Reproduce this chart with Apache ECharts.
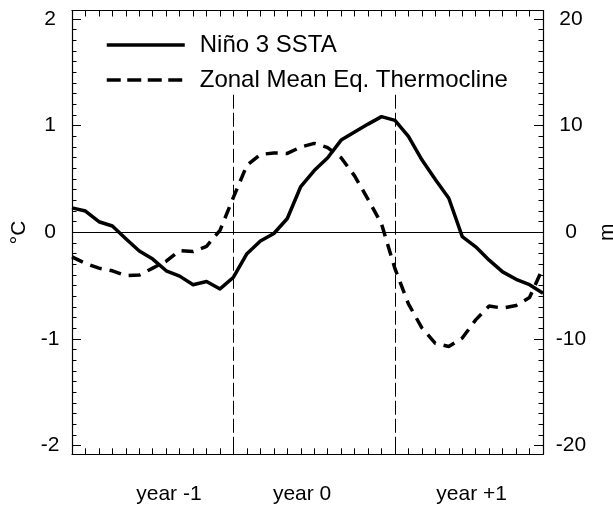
<!DOCTYPE html>
<html><head><meta charset="utf-8">
<script src="https://cdn.jsdelivr.net/npm/echarts@6/dist/echarts.min.js"></script>
<style>html,body{margin:0;padding:0;background:#fff}#c{width:613px;height:505px}</style>
</head><body><div id="c"></div>
<script>
// months since start of "year -1"
const months = [0,1,2,3,4,5,6,7,8,9,10,11,12,13,14,15,16,17,18,19,20,21,22,23,24,25,26,27,28,29,30,31,32,33,34,35];
// Niño 3 SSTA (°C)
const ninoSSTA = [0.23,0.20,0.10,0.06,-0.06,-0.175,-0.25,-0.36,-0.41,-0.49,-0.46,-0.53,-0.42,-0.20,-0.08,-0.01,0.13,0.43,0.58,0.70,0.865,0.94,1.015,1.085,1.05,0.90,0.68,0.495,0.32,-0.04,-0.135,-0.26,-0.37,-0.44,-0.49,-0.57];
// Zonal mean equatorial thermocline (m)
const thermocline = [-2.3,-2.9,-3.35,-3.6,-4.05,-4.0,-3.35,-2.7,-1.7,-1.8,-1.3,0.2,3.3,6.3,7.3,7.45,7.4,8.0,8.35,7.95,7.0,5.3,3.1,0.8,-3.4,-6.7,-8.95,-10.4,-10.7,-9.9,-8.2,-6.9,-7.1,-6.85,-6.1,-3.3];
const yearLabels = ['year -1','year 0','year +1'];
const yearLabelMonths = [7.2, 17.1, 29.7];
const yearBoundaries = [12, 24];
const boundaryTop = 1.29;
const tempRange = [-2.08, 2.08];
const depthRange = [-20.8, 20.8];
const tempTicks = {min:-2, max:2, interval:1};
const depthTicks = {min:-20, max:20, interval:10};

const FONT = 'Liberation Sans';
const black = '#000';
const chart = echarts.init(document.getElementById('c'), null, {renderer:'canvas'});

const frameLine = {show:true, onZero:false, lineStyle:{color:black, width:1.2}};
const xFrame = (pos) => ({
  type:'value', gridIndex:0, position:pos, min:months[0], max:months[months.length-1], interval:1,
  axisLine:frameLine, axisTick:{show:true, inside:true, length:6, lineStyle:{color:black,width:1}},
  axisLabel:{show:false}, splitLine:{show:false}
});
const tickAxis = (pos, t, name, labelAlign, margin, nameGap) => ({
  type:'value', gridIndex:1, position:pos, min:t.min, max:t.max, interval:t.interval,
  axisLine:{show:false}, splitLine:{show:false},
  axisTick:{show:true, inside:true, length:9, lineStyle:{color:black,width:1}},
  minorTick:{show:true, splitNumber:10, length:4.5, lineStyle:{color:black,width:1}},
  axisLabel:{show:true, color:black, fontFamily:FONT, fontSize:21, align:labelAlign, margin:margin},
  name:name, nameLocation:'middle', nameRotate:90, nameGap:nameGap,
  nameTextStyle:{color:black, fontFamily:FONT, fontSize:21}
});

chart.setOption({
  animation:false,
  backgroundColor:'#fff',
  grid:[
    {left:72, width:471, top:10.5, height:443.8, containLabel:false, outerBoundsMode:'none'},
    {left:72, width:471, top:19, height:426.7, containLabel:false, outerBoundsMode:'none'}
  ],
  xAxis:[
    xFrame('bottom'),
    xFrame('top'),
    {type:'value', gridIndex:1, min:months[0], max:months[months.length-1], show:false}
  ],
  yAxis:[
    {type:'value', gridIndex:0, position:'left', min:tempRange[0], max:tempRange[1],
     axisLine:frameLine, axisTick:{show:false}, axisLabel:{show:false}, splitLine:{show:false}},
    {type:'value', gridIndex:0, position:'right', min:depthRange[0], max:depthRange[1],
     axisLine:frameLine, axisTick:{show:false}, axisLabel:{show:false}, splitLine:{show:false}},
    tickAxis('left', tempTicks, '°C', 'center', 22, 41),
    tickAxis('right', depthTicks, 'm', 'center', 28, 51)
  ],
  legend:{
    orient:'vertical', left:105, top:33, padding:0, itemWidth:78, itemHeight:14, itemGap:11,
    textStyle:{color:black, fontFamily:FONT, fontSize:24, padding:[0,0,0,10]},
    lineStyle:{width:3.5},
    itemStyle:{opacity:0},
    data:[
      {name:'Niño 3 SSTA'},
      {name:'Zonal Mean Eq. Thermocline', lineStyle:{type:[14,6.5], width:3.5}}
    ]
  },
  series:[
    {
      name:'Niño 3 SSTA', type:'line', xAxisIndex:0, yAxisIndex:0, symbol:'none', z:5,
      lineStyle:{color:black, width:3.5, join:'round'}, itemStyle:{color:black},
      data: months.map((m,i)=>[m, ninoSSTA[i]]),
      markLine:{
        silent:true, symbol:'none', animation:false,
        label:{show:false},
        data:[
          [{coord:[months[0],0], lineStyle:{type:'solid', width:1, color:black}},
           {coord:[months[months.length-1],0]}],
          ...yearBoundaries.map(b=>[
            {coord:[b,boundaryTop], lineStyle:{type:[14,4], width:1, color:black}},
            {coord:[b,tempRange[0]]}
          ])
        ]
      }
    },
    {
      name:'Zonal Mean Eq. Thermocline', type:'line', xAxisIndex:0, yAxisIndex:1, symbol:'none', z:4,
      lineStyle:{color:black, width:3.5, type:[12,8]}, itemStyle:{color:black},
      data: months.map((m,i)=>[m, thermocline[i]])
    }
  ]
});

// year labels placed through the x scale
const yBase = 494;
chart.setOption({
  graphic: yearLabels.map((t,i)=>({
    type:'text', silent:true,
    x: chart.convertToPixel({xAxisIndex:0}, yearLabelMonths[i]),
    y: yBase,
    style:{text:t, fill:black, font:'21px "Liberation Sans"', textAlign:'center', textVerticalAlign:'middle'}
  }))
});
</script>
</body></html>
